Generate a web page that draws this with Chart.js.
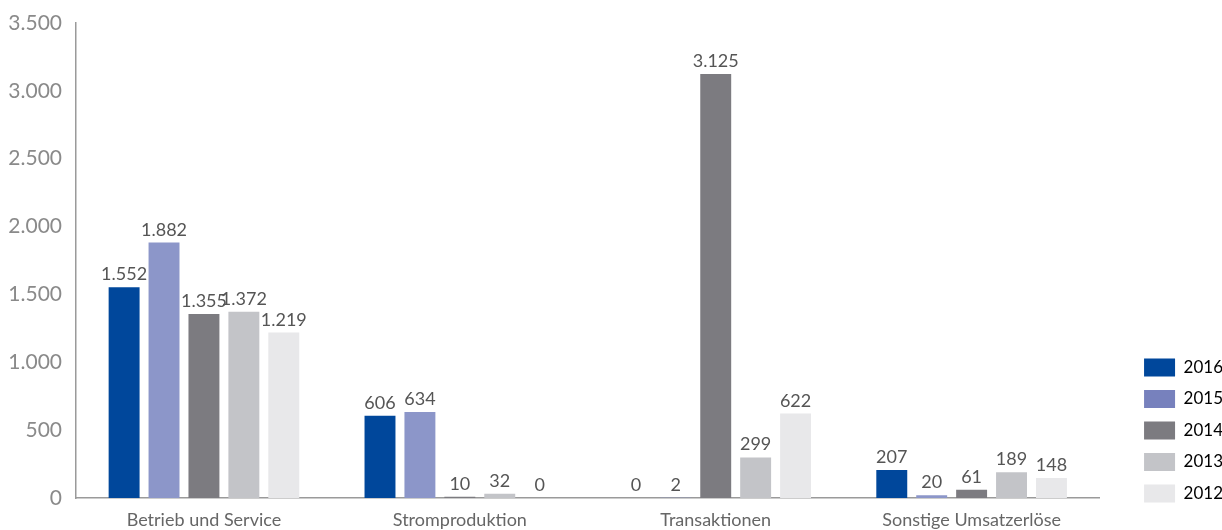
<!DOCTYPE html>
<html>
<head>
<meta charset="utf-8">
<script src="https://cdn.jsdelivr.net/npm/chart.js@4.4.0/dist/chart.umd.min.js"></script>
<style>
  html, body { margin: 0; padding: 0; background: #ffffff; }
  #wrap { width: 1222px; height: 530px; position: relative; }
</style>
</head>
<body>
<div id="wrap"><canvas id="c" width="1222" height="530"></canvas></div>
<script>
const categories = ["Betrieb und Service", "Stromproduktion", "Transaktionen", "Sonstige Umsatzerlöse"];
const years = ["2016", "2015", "2014", "2013", "2012"];
const values2016 = [1552, 606, 0, 207];
const values2015 = [1882, 634, 2, 20];
const values2014 = [1355, 10, 3125, 61];
const values2013 = [1372, 32, 299, 189];
const values2012 = [1219, 0, 622, 148];
const yTicks = [0, 500, 1000, 1500, 2000, 2500, 3000, 3500];

const seriesValues = [values2016, values2015, values2014, values2013, values2012];
const barColors = ["#00479b", "#8c96c9", "#7c7b80", "#c3c4c8", "#e8e8ea"];
const legendColors = ["#00479b", "#7781bd", "#7c7b80", "#c3c4c8", "#e8e8ea"];

const fmt = v => v.toLocaleString("de-DE");
const FONT = "Lato, 'Open Sans', sans-serif";

const valueLabels = {
  id: "valueLabels",
  afterLayout(chart) {
    // let the category labels run to the canvas bottom (no clipping)
    chart.scales.x.bottom = chart.height;
  },
  afterDatasetsDraw(chart) {
    const ctx = chart.ctx;
    ctx.save();
    ctx.font = "18px " + FONT;
    ctx.fillStyle = "#555555";
    ctx.textAlign = "center";
    ctx.textBaseline = "alphabetic";
    chart.data.datasets.forEach((ds, di) => {
      const meta = chart.getDatasetMeta(di);
      meta.data.forEach((bar, i) => {
        ctx.fillText(fmt(ds.data[i]), bar.x, bar.y - 7);
      });
    });
    ctx.restore();
  }
};

new Chart(document.getElementById("c"), {
  type: "bar",
  data: {
    labels: categories,
    datasets: years.map((y, i) => ({
      label: y,
      data: seriesValues[i],
      backgroundColor: barColors[i],
      borderWidth: 0,
      categoryPercentage: 0.78,
      barPercentage: 0.775
    }))
  },
  options: {
    responsive: false,
    devicePixelRatio: 1,
    animation: false,
    layout: { padding: { top: 5, right: -11, left: 0, bottom: 14 } },
    plugins: {
      tooltip: { enabled: false },
      legend: {
        position: "right",
        align: "end",
        labels: {
          boxWidth: 31,
          boxHeight: 18,
          padding: 13.5,
          color: "#555555",
          font: { family: FONT, size: 17 },
          generateLabels(chart) {
            return chart.data.datasets.map((ds, i) => ({
              text: ds.label,
              fillStyle: legendColors[i],
              strokeStyle: legendColors[i],
              lineWidth: 0,
              hidden: false,
              datasetIndex: i
            }));
          }
        }
      }
    },
    scales: {
      x: {
        grid: { display: false, drawTicks: false },
        border: { display: true, color: "#9a9a9a", width: 1.5 },
        ticks: { color: "#666666", font: { family: FONT, size: 18 }, padding: 11, maxRotation: 0 },
        afterFit(scale) { scale.height = 18; }
      },
      y: {
        min: 0,
        max: 3500,
        afterBuildTicks(axis) { axis.ticks = yTicks.map(v => ({ value: v })); },
        grid: { display: false, drawTicks: false },
        border: { display: true, color: "#9a9a9a", width: 1.5 },
        ticks: {
          color: "#8a8a8a",
          font: { family: FONT, size: 21, lineHeight: 0.857 },
          padding: 14,
          callback: v => fmt(v)
        },
        afterFit(scale) { scale.width = 76; }
      },
      gap: {
        position: "right",
        axis: "y",
        grid: { display: false, drawTicks: false },
        border: { display: false },
        ticks: { display: false },
        afterFit(scale) { scale.width = 31; }
      }
    }
  },
  plugins: [valueLabels]
});
</script>
</body>
</html>
